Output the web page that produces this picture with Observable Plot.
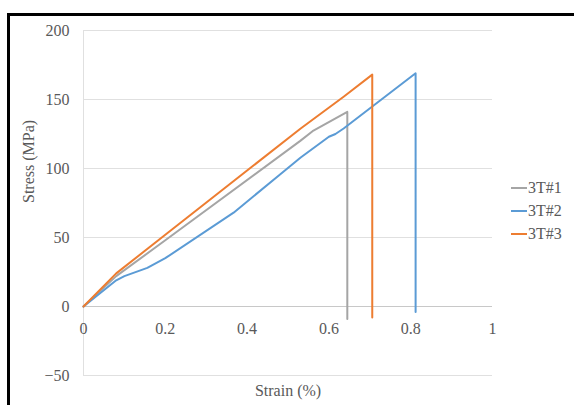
<!DOCTYPE html>
<html><head><meta charset="utf-8">
<script src="https://cdn.jsdelivr.net/npm/d3@7"></script>
<script src="https://cdn.jsdelivr.net/npm/@observablehq/plot@0.6"></script>
<style>
body{margin:0;background:#fff;}
#wrap{position:relative;width:574px;height:405px;overflow:hidden;background:#fff;font-family:"Liberation Serif","Times New Roman",serif;}
#frame{position:absolute;left:7px;top:13px;width:580px;height:400px;border-left:3px solid #000;border-top:3px solid #000;pointer-events:none;}
#legend{position:absolute;left:511px;top:176px;font-size:16px;color:#595959;line-height:23px;}
#legend div{display:flex;align-items:center;}
#legend span.sw{display:inline-block;width:16px;height:2px;margin-right:1px;}
</style></head>
<body><div id="wrap"><div id="chart"></div><div id="legend"></div><div id="frame"></div></div>
<script>
const series = ["3T#1", "3T#2", "3T#3"];
const colors = ["#A5A5A5", "#5B9BD5", "#ED7D31"];
const strain1 = [0, 0.08, 0.2, 0.53, 0.56, 0.645, 0.645];
const stress1 = [0, 22, 48, 120, 127, 141, -9];
const strain2 = [0, 0.08, 0.1, 0.156, 0.2, 0.367, 0.482, 0.531, 0.6, 0.616, 0.636, 0.812, 0.812];
const stress2 = [0, 19, 22, 28, 35, 68, 96, 108, 123, 125, 129, 169, -4];
const strain3 = [0, 0.08, 0.2, 0.531, 0.636, 0.706, 0.706];
const stress3 = [0, 24, 52, 129, 152, 168, -8];
const xTicks = [0, 0.2, 0.4, 0.6, 0.8, 1];
const xTickLabels = ["0", "0.2", "0.4", "0.6", "0.8", "1"];
const yTicks = [-50, 0, 50, 100, 150, 200];

const strains = [strain1, strain2, strain3];
const stresses = [stress1, stress2, stress3];
const data = series.flatMap((s, i) => strains[i].map((x, j) => ({series: s, x, y: stresses[i][j]})));

const chart = Plot.plot({
  width: 574, height: 405,
  marginLeft: 83, marginRight: 82, marginTop: 30, marginBottom: 30,
  style: {fontFamily: '"Liberation Serif","Times New Roman",serif', fontSize: "16px", background: "transparent"},
  x: {domain: [0, 1], axis: null},
  y: {domain: [-50, 200], axis: null},
  color: {domain: series, range: colors},
  marks: [
    Plot.ruleY(yTicks, {stroke: "#e0e0e0", strokeWidth: 1}),
    Plot.ruleX([0], {y1: -50, y2: 200, stroke: "#e0e0e0", strokeWidth: 1}),
    Plot.ruleY([0], {stroke: "#c8c8c8", strokeWidth: 1}),
    Plot.axisY(yTicks, {tickSize: 0, tickPadding: 14, fill: "#595959", label: null, fontSize: 16}),
    Plot.text(xTicks, {x: d => d, y: 0, text: (d, i) => xTickLabels[i], dy: 22, fill: "#595959", fontSize: 16}),
    Plot.line(data, {x: "x", y: "y", z: "series", stroke: "series", strokeWidth: 2}),
    Plot.text(["Stress (MPa)"], {frameAnchor: "left", dx: -55, rotate: -90, fill: "#595959", fontSize: 16}),
    Plot.text(["Strain (%)"], {frameAnchor: "bottom", dy: 20, fill: "#595959", fontSize: 16})
  ]
});
document.getElementById("chart").appendChild(chart);

const leg = document.getElementById("legend");
series.forEach((s, i) => {
  const d = document.createElement("div");
  d.innerHTML = `<span class="sw" style="background:${colors[i]}"></span>${s}`;
  leg.appendChild(d);
});
</script></body></html>
